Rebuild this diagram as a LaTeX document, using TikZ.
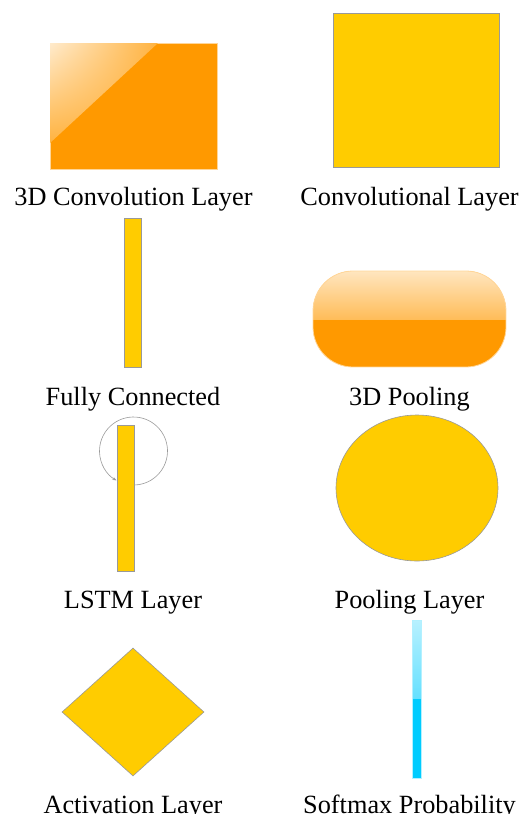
\documentclass[tikz,border=0pt]{standalone}
\usepackage{fontspec}
\setmainfont{Liberation Serif}
\usetikzlibrary{shapes.geometric,arrows.meta,shadings}
\definecolor{orng}{HTML}{FF9900}
\definecolor{yel}{HTML}{FFCC00}
\definecolor{cyn}{HTML}{00CCFF}
\definecolor{bord}{HTML}{999999}
\tikzset{
  lbl/.style={font=\fontsize{26.3}{28}\selectfont, inner sep=0pt, anchor=base},
  flat/.style={fill=yel, draw=bord, line width=0.6pt},
}
\begin{document}
\begin{tikzpicture}[x=1pt,y=-1pt]
\useasboundingbox (0,0) rectangle (521,814);
% 3D convolution layer
\node[draw=orng!40, line width=0.8pt, fill=orng, inner sep=0pt, minimum width=167pt, minimum height=126pt] (conv3d) at (133.5,106) {};
\begin{scope}
\clip (50,43) -- (158,43) -- (50,143) -- cycle;
\shade[upper left=orng!20, upper right=orng!75, lower left=orng!75, lower right=orng!75] (50,43) rectangle (158,143);
\end{scope}
\node[lbl] (l1) at (133.5,205) {3D Convolution Layer};
% Convolutional layer
\node[flat, inner sep=0pt, minimum width=166pt, minimum height=154pt] (conv) at (416,90) {};
\node[lbl] (l2) at (409.5,205) {Convolutional Layer};
% Fully connected
\node[flat, inner sep=0pt, minimum width=17pt, minimum height=149pt] (fc) at (132.5,292.5) {};
\node[lbl] (l3) at (133,405) {Fully Connected};
% 3D pooling
\begin{scope}
\clip[rounded corners=40pt] (313,271) rectangle (506,367);
\fill[orng] (313,271) rectangle (506,367);
\shade[top color=orng!25, bottom color=orng!65] (313,271) rectangle (506,319);
\end{scope}
\node[draw=orng!40, line width=0.8pt, rounded corners=40pt, inner sep=0pt, minimum width=193pt, minimum height=96pt] (pool3d) at (409.5,319) {};
\node[lbl] (l4) at (409.5,405) {3D Pooling};
% LSTM
\coordinate (lc) at (133.5,451);
\draw[bord, line width=0.6pt, -{Stealth[length=4pt,width=3pt]}] (lc) ++(88:34) arc[start angle=88, end angle=-240, radius=34];
\node[flat, inner sep=0pt, minimum width=17pt, minimum height=146pt] (lstm) at (125.5,498) {};
\node[lbl] (l5) at (133,608) {LSTM Layer};
% Pooling layer
\node[flat, ellipse, inner sep=0pt, minimum width=162pt, minimum height=146pt] (pool) at (417,488) {};
\node[lbl] (l6) at (409.5,608) {Pooling Layer};
% Activation
\node[flat, diamond, inner sep=0pt, minimum width=142pt, minimum height=128pt] (act) at (133,712) {};
\node[lbl] (l7) at (133,813) {Activation Layer};
% Softmax
\fill[cyn] (412,620) rectangle (421,778);
\shade[top color=cyn!28, bottom color=cyn!60] (412,620) rectangle (421,698);
\node[draw=cyn!30, line width=0.5pt, inner sep=0pt, minimum width=9pt, minimum height=158pt] (soft) at (416.5,699) {};
\node[lbl] (l8) at (409.5,813) {Softmax Probability};
\end{tikzpicture}
\end{document}
